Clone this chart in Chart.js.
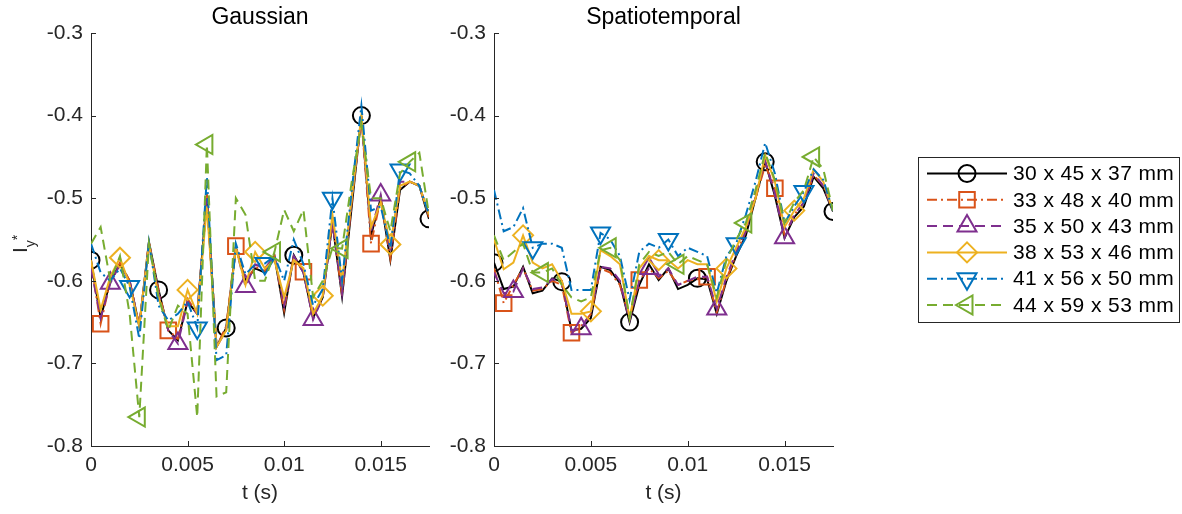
<!DOCTYPE html>
<html>
<head>
<meta charset="utf-8">
<script src="https://cdn.jsdelivr.net/npm/chart.js@4.4.1/dist/chart.umd.min.js"></script>
<style>
  body { margin: 0; background: #fff; }
  #wrap { position: relative; width: 1182px; height: 514px; }
  #left { position: absolute; left: 0; top: 0; }
  #right { position: absolute; left: 440px; top: 0; }
</style>
</head>
<body>
<div id="wrap">
  <canvas id="left" width="440" height="514"></canvas>
  <canvas id="right" width="742" height="514"></canvas>
</div>
<script>
// time samples (s)
const tSec = [0, 0.0005, 0.001, 0.0015, 0.002, 0.0025, 0.003, 0.0035, 0.004, 0.0045,
  0.005, 0.0055, 0.006, 0.0065, 0.007, 0.0075, 0.008, 0.0085, 0.009, 0.0095,
  0.01, 0.0105, 0.011, 0.0115, 0.012, 0.0125, 0.013, 0.0135, 0.014, 0.0145,
  0.015, 0.0155, 0.016, 0.0165, 0.017, 0.0175];

const seriesNames = ['30 x 45 x 37 mm', '33 x 48 x 40 mm', '35 x 50 x 43 mm',
  '38 x 53 x 46 mm', '41 x 56 x 50 mm', '44 x 59 x 53 mm'];

// Gaussian
const gauss30 = [-0.575, -0.645, -0.600, -0.580, -0.600, -0.655, -0.553, -0.611, -0.660, -0.672, -0.625, -0.640, -0.500, -0.680, -0.657, -0.560, -0.600, -0.585, -0.590, -0.570, -0.639, -0.569, -0.590, -0.645, -0.620, -0.530, -0.619, -0.510, -0.400, -0.545, -0.500, -0.575, -0.490, -0.480, -0.485, -0.525];
const gauss33 = [-0.578, -0.652, -0.600, -0.578, -0.600, -0.655, -0.553, -0.612, -0.660, -0.670, -0.622, -0.640, -0.495, -0.680, -0.655, -0.558, -0.602, -0.583, -0.588, -0.570, -0.635, -0.570, -0.589, -0.645, -0.618, -0.528, -0.618, -0.505, -0.402, -0.555, -0.500, -0.573, -0.488, -0.480, -0.485, -0.523];
const gauss35 = [-0.585, -0.645, -0.603, -0.580, -0.600, -0.655, -0.555, -0.615, -0.660, -0.676, -0.625, -0.640, -0.500, -0.680, -0.660, -0.560, -0.607, -0.580, -0.585, -0.570, -0.630, -0.570, -0.590, -0.647, -0.620, -0.530, -0.615, -0.500, -0.405, -0.540, -0.496, -0.565, -0.480, -0.480, -0.485, -0.520];
const gauss38 = [-0.575, -0.635, -0.595, -0.572, -0.605, -0.655, -0.555, -0.620, -0.655, -0.655, -0.611, -0.640, -0.510, -0.680, -0.660, -0.560, -0.605, -0.565, -0.585, -0.575, -0.620, -0.575, -0.585, -0.640, -0.618, -0.520, -0.600, -0.500, -0.400, -0.535, -0.505, -0.556, -0.485, -0.480, -0.485, -0.520];
const gauss41 = [-0.555, -0.590, -0.600, -0.585, -0.607, -0.670, -0.553, -0.630, -0.648, -0.640, -0.625, -0.657, -0.474, -0.696, -0.690, -0.555, -0.592, -0.580, -0.579, -0.570, -0.600, -0.550, -0.580, -0.630, -0.610, -0.500, -0.600, -0.490, -0.388, -0.515, -0.510, -0.560, -0.466, -0.470, -0.485, -0.520];
const gauss44 = [-0.555, -0.535, -0.600, -0.570, -0.640, -0.765, -0.555, -0.620, -0.660, -0.630, -0.640, -0.765, -0.435, -0.740, -0.735, -0.500, -0.520, -0.600, -0.600, -0.565, -0.514, -0.540, -0.514, -0.620, -0.600, -0.560, -0.561, -0.480, -0.410, -0.500, -0.500, -0.540, -0.470, -0.456, -0.445, -0.520];

// Spatiotemporal
const spat30 = [-0.578, -0.610, -0.607, -0.583, -0.615, -0.612, -0.597, -0.601, -0.660, -0.658, -0.645, -0.583, -0.587, -0.603, -0.650, -0.605, -0.580, -0.599, -0.585, -0.610, -0.605, -0.597, -0.598, -0.640, -0.600, -0.570, -0.545, -0.500, -0.456, -0.497, -0.548, -0.523, -0.510, -0.474, -0.488, -0.516];
const spat33 = [-0.585, -0.627, -0.605, -0.585, -0.612, -0.610, -0.600, -0.605, -0.663, -0.655, -0.640, -0.585, -0.590, -0.605, -0.645, -0.599, -0.585, -0.597, -0.588, -0.605, -0.600, -0.598, -0.595, -0.638, -0.598, -0.568, -0.540, -0.500, -0.460, -0.488, -0.545, -0.520, -0.505, -0.472, -0.485, -0.515];
const spat35 = [-0.590, -0.615, -0.613, -0.585, -0.610, -0.608, -0.598, -0.600, -0.660, -0.658, -0.638, -0.583, -0.585, -0.600, -0.648, -0.600, -0.585, -0.595, -0.585, -0.605, -0.600, -0.595, -0.595, -0.634, -0.595, -0.565, -0.540, -0.495, -0.455, -0.495, -0.548, -0.520, -0.505, -0.470, -0.485, -0.515];
const spat38 = [-0.550, -0.586, -0.578, -0.545, -0.578, -0.585, -0.580, -0.600, -0.640, -0.640, -0.637, -0.563, -0.570, -0.580, -0.645, -0.585, -0.570, -0.575, -0.575, -0.585, -0.575, -0.580, -0.580, -0.625, -0.585, -0.560, -0.535, -0.500, -0.448, -0.480, -0.535, -0.515, -0.500, -0.465, -0.480, -0.515];
const spat41 = [-0.490, -0.540, -0.535, -0.512, -0.560, -0.555, -0.555, -0.560, -0.611, -0.611, -0.611, -0.542, -0.550, -0.570, -0.623, -0.565, -0.555, -0.560, -0.550, -0.570, -0.560, -0.565, -0.570, -0.615, -0.570, -0.555, -0.520, -0.480, -0.433, -0.470, -0.530, -0.510, -0.492, -0.465, -0.478, -0.515];
const spat44 = [-0.545, -0.575, -0.565, -0.555, -0.590, -0.590, -0.585, -0.605, -0.620, -0.625, -0.620, -0.563, -0.560, -0.575, -0.645, -0.580, -0.565, -0.570, -0.565, -0.580, -0.570, -0.575, -0.580, -0.620, -0.575, -0.550, -0.530, -0.490, -0.445, -0.478, -0.530, -0.505, -0.490, -0.450, -0.465, -0.515];

const yTicks = [-0.8, -0.7, -0.6, -0.5, -0.4, -0.3];
const xTicks = [0, 0.005, 0.01, 0.015];

// styles (matlab default order)
const colors = ['#000000', '#D95319', '#7E2F8E', '#EDB120', '#0072BD', '#77AC30'];
const dashes = [[], [10, 4, 2, 4], [10, 6], [], [10, 4, 2, 4], [10, 6]];
const markers = ['circle', 'rect', 'triangle', 'rectRot', 'triangle', 'triangle'];
const markerRot = [0, 0, 0, 0, 180, 270];
const markerRad = [8.5, 11, 11, 10, 11, 11];

const family = "'Liberation Sans', Arial, Helvetica, sans-serif";
const axisColor = '#262626';

function makeSets(values) {
  return values.map((vals, k) => ({
    label: seriesNames[k],
    data: tSec.map((t, i) => ({ x: t, y: vals[i] })),
    borderColor: colors[k],
    borderWidth: 2,
    borderDash: dashes[k],
    pointStyle: markers[k],
    pointRotation: markerRot[k],
    pointRadius: ctx => (ctx.dataIndex % 7 === k ? markerRad[k] : 0),
    pointHoverRadius: 0,
    pointBorderColor: colors[k],
    pointBorderWidth: 2,
    pointBackgroundColor: 'rgba(0,0,0,0)',
    tension: 0,
    fill: false,
    order: 6 - k
  }));
}

function makeScales(yWidth) {
  return {
    x: {
      type: 'linear', min: 0, max: 0.0175,
      grid: { display: true, drawOnChartArea: false, drawTicks: false },
      border: { display: true, color: axisColor, width: 1 },
      afterBuildTicks: s => { s.ticks = xTicks.map(v => ({ value: v })); },
      ticks: {
        padding: 7, color: axisColor, maxRotation: 0, autoSkip: false,
        font: { size: 21, family: family },
        callback: v => String(+Number(v).toFixed(4))
      },
      title: {
        display: true, text: 't (s)', color: axisColor,
        font: { size: 21, family: family }, padding: { top: 0, bottom: 8 }
      },
      afterFit: s => { s.height = 68; }
    },
    y: {
      type: 'linear', min: -0.8, max: -0.3,
      grid: { display: true, drawOnChartArea: false, drawTicks: false },
      border: { display: true, color: axisColor, width: 1 },
      afterBuildTicks: s => { s.ticks = yTicks.map(v => ({ value: v })); },
      ticks: {
        padding: 8, color: axisColor,
        font: { size: 21, family: family },
        callback: v => Number(v).toFixed(1)
      },
      afterFit: s => { s.width = yWidth; }
    }
  };
}

// inward tick marks like matlab
const inTicks = {
  id: 'inTicks',
  afterDatasetsDraw(chart) {
    const ctx = chart.ctx, a = chart.chartArea;
    const xs = chart.scales.x, ys = chart.scales.y;
    ctx.save();
    ctx.strokeStyle = axisColor;
    ctx.lineWidth = 1;
    ctx.beginPath();
    xs.ticks.forEach(t => {
      const px = Math.round(xs.getPixelForValue(t.value)) + 0.5;
      ctx.moveTo(px, a.bottom);
      ctx.lineTo(px, a.bottom - 5);
    });
    ys.ticks.forEach(t => {
      const py = Math.round(ys.getPixelForValue(t.value)) + 0.5;
      ctx.moveTo(a.left, py);
      ctx.lineTo(a.left + 5, py);
    });
    ctx.stroke();
    ctx.restore();
  }
};

// y label I_y^*
const yLabel = {
  id: 'yLabel',
  afterDraw(chart) {
    const ctx = chart.ctx;
    ctx.save();
    ctx.translate(27, 253);
    ctx.rotate(-Math.PI / 2);
    ctx.fillStyle = axisColor;
    ctx.textBaseline = 'alphabetic';
    ctx.font = '21px ' + family;
    ctx.fillText('I', 0, 0);
    const w = ctx.measureText('I').width;
    ctx.font = '14px ' + family;
    ctx.fillText('y', w, 8);
    const w2 = ctx.measureText('y').width;
    ctx.fillText('*', w + w2, -5);
    ctx.restore();
  }
};

// boxed legend at the right, line + marker samples
const boxLegend = {
  id: 'boxLegend',
  afterDraw(chart) {
    const ctx = chart.ctx;
    const bx = 478, by = 157, bw = 261, bh = 165;
    ctx.save();
    ctx.fillStyle = '#ffffff';
    ctx.fillRect(bx, by, bw, bh);
    ctx.strokeStyle = axisColor;
    ctx.lineWidth = 1;
    ctx.strokeRect(bx + 0.5, by + 0.5, bw, bh);
    chart.data.datasets.forEach((ds, k) => {
      const y = 173.5 + 26.3 * k;
      ctx.strokeStyle = ds.borderColor;
      ctx.lineWidth = 2;
      ctx.setLineDash(ds.borderDash);
      ctx.beginPath();
      ctx.moveTo(487, y);
      ctx.lineTo(567, y);
      ctx.stroke();
      ctx.setLineDash([]);
      ctx.fillStyle = 'rgba(0,0,0,0)';
      Chart.helpers.drawPoint(ctx, {
        pointStyle: ds.pointStyle, rotation: ds.pointRotation,
        radius: markerRad[k], borderWidth: 2
      }, 527, y);
      ctx.fillStyle = '#000000';
      ctx.font = '21px ' + family;
      ctx.letterSpacing = '0.4px';
      ctx.textBaseline = 'middle';
      ctx.textAlign = 'left';
      ctx.fillText(ds.label, 573, y + 1);
    });
    ctx.restore();
  }
};

function makeChart(id, title, values, yWidth, padRight, extra) {
  return new Chart(document.getElementById(id), {
    type: 'line',
    data: { datasets: makeSets(values) },
    options: {
      responsive: false,
      animation: false,
      layout: { padding: { left: 0, right: padRight, top: 0, bottom: 0 } },
      scales: makeScales(yWidth),
      plugins: {
        legend: { display: false },
        tooltip: { enabled: false },
        title: {
          display: true, text: title, fullSize: false, color: '#000000',
          font: { size: 23, weight: 'normal', family: family, lineHeight: 1.2 },
          padding: { top: 4, bottom: 1.4 }
        }
      }
    },
    plugins: [inTicks].concat(extra)
  });
}

makeChart('left', 'Gaussian', [gauss30, gauss33, gauss35, gauss38, gauss41, gauss44], 91, 11, [yLabel]);
makeChart('right', 'Spatiotemporal', [spat30, spat33, spat35, spat38, spat41, spat44], 54, 349, [boxLegend]);
</script>
</body>
</html>
